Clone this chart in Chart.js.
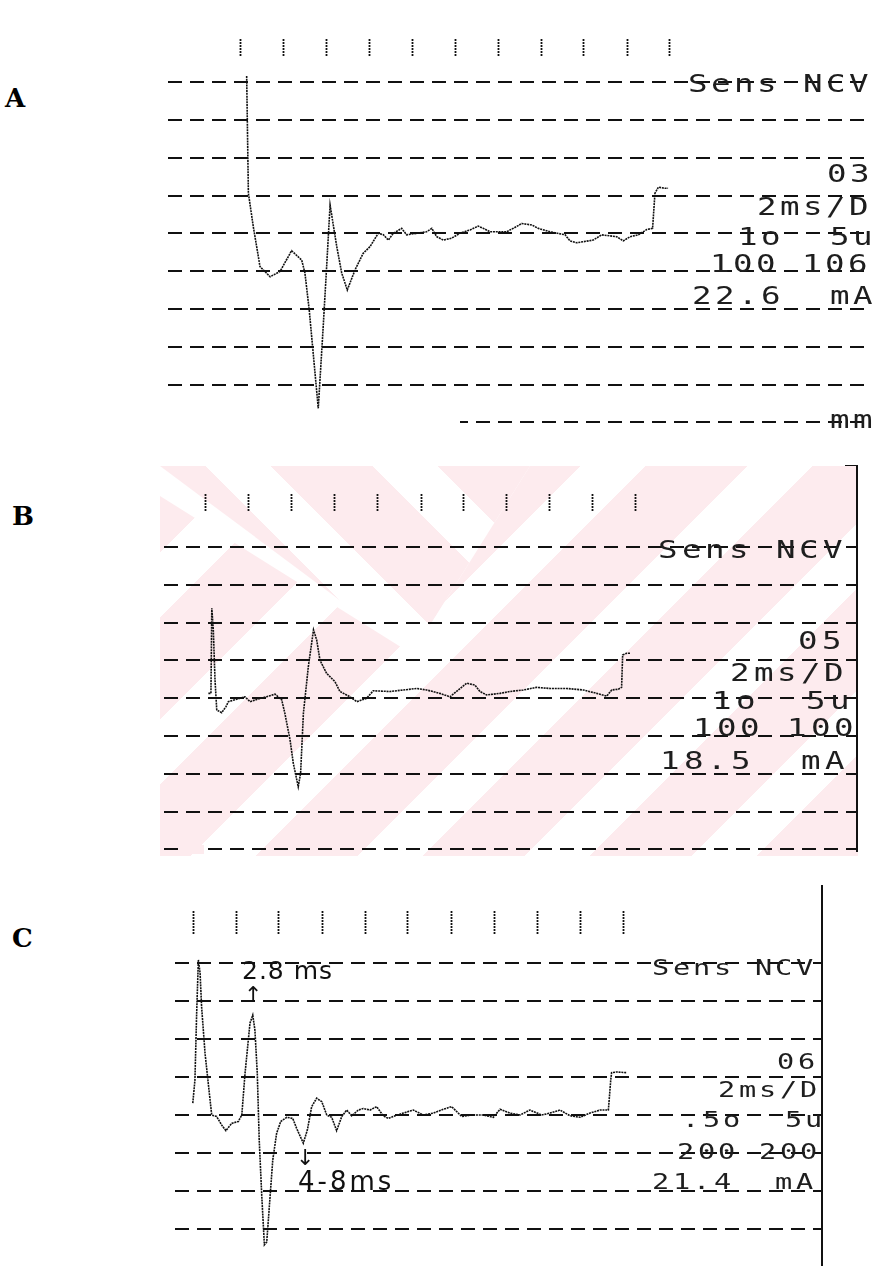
<!DOCTYPE html>
<html>
<head>
<meta charset="utf-8">
<script src="https://cdn.jsdelivr.net/npm/chart.js@4.4.0/dist/chart.umd.min.js"></script>
<style>
  html, body { margin: 0; padding: 0; background: #fff; }
  body { position: relative; width: 872px; height: 1268px; overflow: hidden; }
  canvas { position: absolute; z-index: 1; }
  .tag { position: absolute; font: bold 26px 'DejaVu Serif', serif; line-height: 26px; color: #000; }
  .ch { position: absolute; font-family: 'DejaVu Sans Mono', monospace; color: #1e1e1e; transform-origin: 0 50%; z-index: 3; }
  .hand { position: absolute; font-family: 'DejaVu Sans', sans-serif; color: #111; white-space: pre; z-index: 3; }
  .rule { position: absolute; background: #111; z-index: 3; }
  .mask { position: absolute; background: #fff; z-index: 2; }
  .wm { position: absolute; left: 160px; top: 466px; width: 698px; height: 390px; z-index: 0; }
</style>
</head>
<body>

<!-- faint diagonal watermark behind strip B -->
<div class="wm" style="background: repeating-linear-gradient(45deg, #fdebee 0 72px, #fff 72px 118px);
     clip-path: polygon(0 0, 370px 0, 252px 188px);"></div>
<div class="wm" style="background: repeating-linear-gradient(-45deg, #fdebee 0 72px, #fff 72px 118px);
     clip-path: polygon(0 30px, 252px 188px, 370px 0, 698px 0, 698px 390px, 0 390px);"></div>

<div class="tag" style="left:5px;top:85px">A</div>
<div class="tag" style="left:12px;top:503px">B</div>
<div class="tag" style="left:12px;top:925px">C</div>

<canvas id="chartA"></canvas>
<canvas id="chartB"></canvas>
<canvas id="chartC"></canvas>

<!-- frame lines of the strips B and C -->
<div class="rule" style="left:856px;top:465px;width:2px;height:387px"></div>
<div class="rule" style="left:845px;top:465px;width:12px;height:1px"></div>
<div class="rule" style="left:821px;top:885px;width:2px;height:381px"></div>
<!-- lower dashed lines that are broken on the print -->
<div class="mask" style="left:160px;top:417px;width:300px;height:10px"></div>
<div class="mask" style="left:184px;top:845px;width:20px;height:9px;background:#fdebee"></div>

<script>
// sweep: time in ms, amplitude in grid divisions (0 = baseline line)
const tickMs = [0, 2, 4, 6, 8, 10, 12, 14, 16, 18, 20];

const gridA = [4, 3, 2, 1, 0, -1, -2, -3, -4, -5];
const gridB = [4, 3, 2, 1, 0, -1, -2, -3, -4];
const gridC = [4, 3, 2, 1, 0, -1, -2, -3];

// trace A
const timeA = [0.31, 0.39, 0.62, 0.93, 1.40, 1.86, 2.40, 2.87, 3.02, 3.22, 3.64, 3.87, 4.03, 4.19, 4.50, 4.73, 4.99,
  5.35, 5.73, 6.05, 6.43, 6.67, 6.90, 7.13, 7.52, 7.75, 8.22, 8.68, 8.92, 9.15, 9.46, 9.84, 10.23, 10.70, 11.08, 11.32,
  11.63, 12.40, 12.87, 13.10, 13.57, 13.88, 14.42, 15.12, 15.35, 15.66, 16.43, 16.82, 17.52, 17.83, 18.14, 18.53,
  18.92, 19.19, 19.30, 19.46, 19.77, 19.91];
const ampA = [4.16, 1.06, 0.17, -0.88, -1.15, -1.01, -0.46, -0.71, -1.05, -2.03, -4.63, -2.47, -0.88, 0.75, -0.35, -1.05, -1.50,
  -0.97, -0.53, -0.35, 0.0, -0.04, -0.18, 0.0, 0.13, -0.04, 0.0, 0.04, 0.13, -0.09, -0.18, -0.13, 0.0, 0.09, 0.19, 0.13,
  0.04, 0.04, 0.18, 0.26, 0.22, 0.13, 0.04, -0.04, -0.20, -0.25, -0.18, -0.04, -0.09, -0.20, -0.09, -0.04,
  0.10, 0.13, 1.06, 1.22, 1.19, 1.19];

// trace B
const timeB = [0.11, 0.23, 0.27, 0.34, 0.42, 0.50, 0.73, 0.93, 1.04, 1.58, 1.81, 2.05, 2.36, 2.82, 3.21, 3.52, 3.67,
  3.91, 4.06, 4.29, 4.40, 4.53, 4.76, 5.00, 5.15, 5.30, 5.61, 6.00, 6.23, 6.70, 7.01, 7.47, 7.78, 8.56, 9.18, 9.80,
  10.26, 10.88, 11.35, 11.74, 12.12, 12.51, 12.74, 13.05, 13.67, 14.14, 14.76, 15.38, 16.00, 16.78, 17.55, 18.17,
  18.64, 18.87, 19.18, 19.33, 19.38, 19.57, 19.72];
const ampB = [0.13, 0.13, 2.38, 1.81, 0.48, -0.31, -0.38, -0.22, -0.09, 0.0, 0.04, -0.09, -0.03, 0.04, 0.11, -0.04, -0.40,
  -1.10, -1.72, -2.34, -1.98, -0.40, 0.84, 1.81, 1.54, 1.01, 0.66, 0.44, 0.18, 0.04, -0.09, 0.0, 0.20, 0.18, 0.22, 0.26,
  0.22, 0.13, 0.04, 0.22, 0.40, 0.35, 0.18, 0.09, 0.13, 0.18, 0.22, 0.29, 0.26, 0.26, 0.22, 0.13,
  0.06, 0.22, 0.24, 0.29, 1.15, 1.19, 1.19];

// trace C
const timeC = [-0.01, 0.09, 0.17, 0.25, 0.33, 0.40, 0.56, 0.76, 0.87, 1.10, 1.33, 1.53, 1.80, 2.11, 2.27, 2.42, 2.65,
  2.78, 2.88, 2.99, 3.08, 3.20, 3.32, 3.43, 3.55, 3.71, 3.89, 4.08, 4.36, 4.64, 4.82, 5.13, 5.32, 5.52, 5.75, 5.99,
  6.22, 6.45, 6.68, 6.92, 7.15, 7.38, 7.69, 7.92, 8.23, 8.54, 8.85, 9.08, 9.40, 9.78, 10.25, 10.71, 11.18, 11.64,
  12.03, 12.50, 12.96, 13.50, 13.97, 14.28, 14.74, 15.21, 15.67, 16.22, 16.60, 17.07, 17.53, 18.00, 18.47, 18.93,
  19.32, 19.43, 19.47, 19.70, 20.17];
const ampC = [0.31, 0.92, 2.67, 4.07, 3.72, 2.84, 1.62, 0.57, 0.0, -0.04, -0.26, -0.41, -0.22, -0.17, 0.0, 1.09, 2.41,
  2.62, 2.23, 1.09, -0.66, -2.14, -3.41, -3.33, -2.41, -1.18, -0.48, -0.17, -0.06, -0.09, -0.35, -0.74, -0.39, 0.22, 0.44, 0.35,
  0.0, -0.06, -0.41, -0.04, 0.13, -0.02, 0.13, 0.17, 0.13, 0.22, -0.02, -0.09, -0.02, 0.05, 0.13, 0.0, 0.05, 0.15,
  0.22, -0.04, 0.0, 0.0, -0.06, 0.15, 0.05, 0.0, 0.13, 0.0, 0.05, 0.13, -0.02, -0.06, 0.05, 0.13,
  0.13, 0.92, 1.11, 1.13, 1.11];

// printer read-out next to each sweep
const labelsA = ['Sens NCV', '03', '2ms/D', '1o  5u', '100 106', '22.6  mA', 'mm'];
const labelsB = ['Sens NCV', '05', '2ms/D', '1o  5u', '100 100', '18.5  mA'];
const labelsC = ['Sens NCV', '06', '2ms/D', '.5o  5u', '200 200', '21.4  mA'];

// page placement of each strip (pixels)
const layout = {
  A: { left: 168, right: 872, tickTop: 39, tickLen: 17, bottom: 428, zeroX: 240, pxMs: 21.5, baseY: 233.3, pxDiv: 37.8,
       text: [[688, 83], [827, 173], [757, 206], [738, 236], [710, 263], [692, 295], [830, 419]], pitch: 23, size: 25 },
  B: { left: 164, right: 857, tickTop: 494, tickLen: 17, bottom: 852, zeroX: 206, pxMs: 21.5, baseY: 698.3, pxDiv: 37.8,
       text: [[658, 549], [798, 640], [730, 672], [712, 700], [693, 727], [660, 760]], pitch: 23.5, size: 25 },
  C: { left: 175, right: 822, tickTop: 911, tickLen: 24, bottom: 1266, zeroX: 193, pxMs: 21.5, baseY: 1115, pxDiv: 38.1,
       text: [[652, 968], [777, 1062], [718, 1090], [682, 1120], [677, 1152], [652, 1182]], pitch: 20.5, size: 22 }
};

// one printer line, each character set on the printer's fixed pitch
function addRow(txt, left, cy, size, pitch) {
  [...txt].forEach((c, i) => {
    if (c === ' ') return;
    const d = document.createElement('div');
    d.className = 'ch';
    d.textContent = c;
    d.style.left = (left + i * pitch) + 'px';
    d.style.top = (cy - size * 0.5) + 'px';
    d.style.fontSize = size + 'px';
    d.style.lineHeight = size + 'px';
    d.style.transform = 'scaleX(1.3)';
    document.body.appendChild(d);
  });
}

function addHand(txt, left, cy, size, spacing) {
  const d = document.createElement('div');
  d.className = 'hand';
  d.textContent = txt;
  d.style.left = left + 'px';
  d.style.top = (cy - size * 0.5) + 'px';
  d.style.fontSize = size + 'px';
  d.style.lineHeight = size + 'px';
  d.style.letterSpacing = spacing + 'px';
  document.body.appendChild(d);
}

function drawStrip(id, L, times, amps, grid, labels) {
  const cv = document.getElementById(id);
  cv.width = L.right - L.left;
  cv.height = L.bottom - L.tickTop;
  cv.style.left = L.left + 'px';
  cv.style.top = L.tickTop + 'px';

  new Chart(cv, {
    type: 'line',
    data: {
      datasets: [{
        data: times.map((t, i) => ({ x: t, y: amps[i] })),
        borderColor: '#111',
        borderWidth: 1.6,
        borderDash: [2, 0.8],
        pointRadius: 0,
        tension: 0,
        fill: false
      }]
    },
    options: {
      responsive: false,
      animation: false,
      events: [],
      layout: { padding: 0 },
      plugins: { legend: { display: false }, tooltip: { enabled: false } },
      scales: {
        x: {
          type: 'linear',
          position: 'top',
          min: (L.left - L.zeroX) / L.pxMs,
          max: (L.right - L.zeroX) / L.pxMs,
          afterBuildTicks: s => { s.ticks = tickMs.map(v => ({ value: v })); },
          ticks: { display: false },
          border: { display: false },
          grid: {
            drawOnChartArea: false,
            drawTicks: true,
            tickLength: L.tickLen,
            tickColor: '#111',
            tickWidth: 1.8,
            tickBorderDash: [2, 1]
          }
        },
        y: {
          type: 'linear',
          min: (L.baseY - L.bottom) / L.pxDiv,
          max: (L.baseY - L.tickTop - L.tickLen) / L.pxDiv,
          afterBuildTicks: s => { s.ticks = grid.map(v => ({ value: v })); },
          ticks: { display: false },
          border: { display: false, dash: [14, 8] },
          grid: { color: '#111', lineWidth: 2, drawTicks: false }
        }
      }
    }
  });

  labels.forEach((txt, i) => addRow(txt, L.text[i][0], L.text[i][1], L.size, L.pitch));
}

drawStrip('chartA', layout.A, timeA, ampA, gridA, labelsA);
drawStrip('chartB', layout.B, timeB, ampB, gridB, labelsB);
drawStrip('chartC', layout.C, timeC, ampC, gridC, labelsC);

// hand-written latency marks on C
addHand('2.8 ms', 242, 970, 25, 1);
addHand('\u2191', 244, 995, 22, 0);
addHand('\u2193', 296, 1158, 22, 0);
addHand('4-8ms', 298, 1181, 26, 3);
</script>
</body>
</html>
